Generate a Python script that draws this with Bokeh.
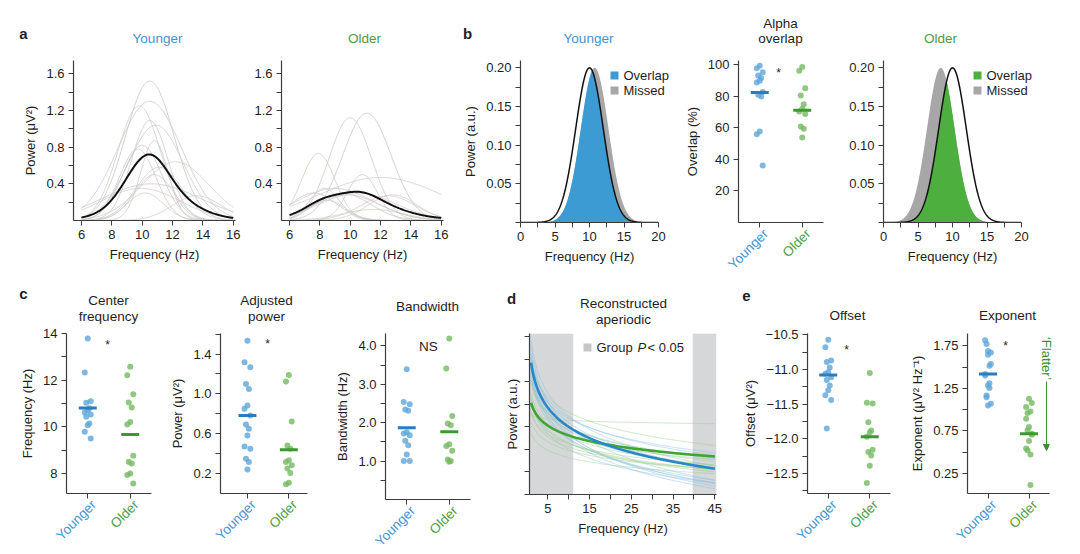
import numpy as np
from bokeh.plotting import figure
from bokeh.layouts import row, column
from bokeh.models import FixedTicker, BoxAnnotation, Arrow, NormalHead, Range1d
from bokeh.core.properties import value
from bokeh.embed import file_html
from bokeh.resources import INLINE

# ------------------------------------------------------------------ data
groups = ["Younger", "Older"]

# panel a: individual alpha peaks (centre Hz, power uV^2, width Hz)
a_young_cf = [10.5, 10.5, 9.8, 10.5, 10.9, 10.8, 10.0, 9.7, 12.2, 11.1, 10.8, 9.9, 10.6, 13.6, 10.2]
a_young_pw = [1.52, 1.30, 1.25, 1.09, 1.04, 0.87, 0.82, 0.78, 0.64, 0.58, 0.50, 0.35, 0.40, 0.27, 0.30]
a_young_bw = [1.6, 2.1, 1.4, 1.2, 1.8, 0.9, 1.3, 1.2, 2.2, 1.5, 1.3, 2.6, 3.2, 1.6, 1.2]
a_older_cf = [11.1, 10.0, 7.9, 10.8, 12.0, 8.3, 7.6, 9.0, 12.5, 8.5, 10.5, 12.8, 9.5, 9.8, 11.5]
a_older_pw = [1.17, 1.12, 0.73, 0.50, 0.47, 0.35, 0.30, 0.35, 0.27, 0.22, 0.30, 0.28, 0.30, 0.28, 0.12]
a_older_bw = [1.6, 1.4, 1.1, 1.0, 4.0, 1.0, 1.5, 2.5, 1.8, 1.2, 2.5, 1.6, 1.8, 2.2, 2.0]

# panel b: canonical alpha band vs group peak
b_reference_peak = 10.0
b_group_peak = [10.75, 8.3]
b_height = 0.2
b_width = 2.0

# alpha overlap (%)
overlap_young = [99.4, 97.8, 95.3, 93.2, 91.5, 89.8, 88.7, 82.6, 80.9, 79.8, 57.5, 55.8, 35.9]
overlap_older = [98.5, 96.2, 85.1, 80.5, 74.9, 72.0, 70.3, 68.6, 60.7, 59.2, 53.7]
overlap_means = [82.4, 71.1]

# panel c
cf_young = [13.79, 12.33, 11.10, 11.03, 10.80, 10.71, 10.61, 10.53, 10.43, 10.14, 10.07, 9.79, 9.50]
cf_older = [12.57, 12.21, 11.39, 11.04, 10.83, 10.21, 10.10, 8.76, 8.50, 8.43, 8.00, 7.93, 7.57]
cf_means = [10.81, 9.67]
pw_young = [1.533, 1.317, 1.267, 1.10, 1.05, 0.883, 0.85, 0.783, 0.693, 0.65, 0.583, 0.473, 0.45, 0.35, 0.317, 0.24]
pw_older = [1.19, 1.123, 0.723, 0.483, 0.45, 0.333, 0.317, 0.283, 0.25, 0.207, 0.107, 0.093]
pw_means = [0.783, 0.44]
bw_young = [3.39, 2.54, 2.48, 2.34, 2.31, 1.75, 1.72, 1.67, 1.53, 1.41, 1.17, 1.00, 1.00]
bw_older = [4.19, 3.41, 2.17, 1.98, 1.93, 1.44, 1.39, 1.27, 1.04, 1.00, 0.98]
bw_means = [1.87, 1.76]

# panel e (subject order shared by offset / exponent lists)
off_young = [-10.57, -10.68, -10.87, -10.89, -10.97, -11.04, -11.06, -11.11, -11.15, -11.23, -11.30, -11.37, -11.44, -11.85]
exp_young = [1.69, 1.816, 1.536, 1.77, 1.31, 1.645, 1.419, 1.67, 1.166, 1.516, 1.283, 1.40, 1.069, 1.146, 1.255, 1.049]
off_older = [-11.05, -11.48, -11.49, -11.76, -11.88, -11.91, -11.97, -12.16, -12.19, -12.24, -12.39, -12.64]
exp_older = [1.127, 1.03, 1.077, 0.96, 0.979, 0.796, 0.893, 0.718, 0.757, 0.115, 0.632, 0.543, 0.706, 0.523, 0.473]
off_means = [-11.08, -11.97]
exp_means = [1.42, 0.718]

# panel d significant frequency ranges (Hz)
sig_ranges = [(0.62, 11.1), (39.7, 45.4)]

# tick labels
a_xticks = [6, 8, 10, 12, 14, 16]
a_xlabels = ["6", "8", "10", "12", "14", "16"]
a_yticks = [0.2, 0.4, 0.6, 0.8, 1.0, 1.2, 1.4, 1.6]
a_ylabels = ["", "0.4", "", "0.8", "", "1.2", "", "1.6"]
b_xticks = [0.0, 2.5, 5.0, 7.5, 10.0, 12.5, 15.0, 17.5, 20.0]
b_xlabels = ["0", "", "5", "", "10", "", "15", "", "20"]
b_yticks = [0.0, 0.025, 0.05, 0.075, 0.1, 0.125, 0.15, 0.175, 0.2]
b_ylabels = ["", "", "0.05", "", "0.10", "", "0.15", "", "0.20"]
ov_yticks = [20, 40, 60, 80, 100]
ov_ylabels = ["20", "40", "60", "80", "100"]
cf_yticks = [8, 9, 10, 11, 12, 13, 14]
cf_ylabels = ["8", "", "10", "", "12", "", "14"]
pw_yticks = [0.2, 0.4, 0.6, 0.8, 1.0, 1.2, 1.4, 1.6]
pw_ylabels = ["0.2", "", "0.6", "", "1.0", "", "1.4", ""]
bw_yticks = [0.5, 1.0, 1.5, 2.0, 2.5, 3.0, 3.5, 4.0]
bw_ylabels = ["", "1.0", "", "2.0", "", "3.0", "", "4.0"]
d_xticks = [5, 10, 15, 20, 25, 30, 35, 40, 45]
d_xlabels = ["5", "", "15", "", "25", "", "35", "", "45"]
d_yticks = [-14.0, -13.5, -13.0, -12.5, -12.0, -11.5, -11.0, -10.5]
off_yticks = [-12.75, -12.5, -12.25, -12.0, -11.75, -11.5, -11.25, -11.0, -10.75, -10.5]
off_ylabels = ["", "\u221212.5", "", "\u221212.0", "", "\u221211.5", "", "\u221211.0", "", "\u221210.5"]
ex_yticks = [0.25, 0.5, 0.75, 1.0, 1.25, 1.5, 1.75]
ex_ylabels = ["0.25", "", "0.75", "", "1.25", "", "1.75"]

# ------------------------------------------------------------------ style
FONT = "Liberation Sans"
AX = "#3c3c3c"
TXT = "#1e1e1e"
Y_TXT = "#4593d2"
O_TXT = "#4c9d3e"
Y_PT = "#5ea6da"
O_PT = "#74ba62"
Y_BAR = "#2a7cc0"
O_BAR = "#3b9a2e"
Y_LINE = "#2a86c8"
O_LINE = "#3fa535"
Y_FILL = "#3d9bd4"
O_FILL = "#4caf3e"
GRAY_FILL = "#a7a7a7"
SIG = "#d5d7d8"
FLAT = "#3a8f2f"
THIN = ["#c6c6c6", "#d6c6c6", "#d0d0c0", "#c5cbd5", "#cccccc", "#d3c8c8"]
JIT = [0.0, -0.07, 0.07, -0.035, 0.035]
TOP_Y0, TOP_H = 0, 278
BOT_Y0, BOT_H = 278, 274


def make(x0, left, fw, right, y0, top, fh, xr, yr):
    total_h = TOP_H if y0 == TOP_Y0 else BOT_H
    p = figure(frame_width=fw, frame_height=fh,
               min_border_left=left, min_border_right=right,
               min_border_top=top, min_border_bottom=total_h - top - fh,
               x_range=Range1d(*xr), y_range=Range1d(*yr),
               toolbar_location=None, output_backend="svg", title=None)
    p.outline_line_color = None
    p.xgrid.visible = False
    p.ygrid.visible = False
    p.background_fill_color = "white"
    p.border_fill_color = "white"
    for ax in p.axis:
        ax.axis_line_color = AX
        ax.axis_line_width = 1.2
        ax.major_tick_line_color = AX
        ax.major_tick_line_width = 1
        ax.minor_tick_line_color = None
        ax.major_tick_out = 5
        ax.major_tick_in = 0
        ax.major_label_standoff = 4
        ax.major_label_text_font = FONT
        ax.major_label_text_font_size = "13px"
        ax.major_label_text_color = TXT
        ax.axis_label_text_font = FONT
        ax.axis_label_text_font_size = "13px"
        ax.axis_label_text_font_style = "normal"
        ax.axis_label_text_color = TXT
        ax.axis_label_standoff = 5
    geo = (x0 + left, y0 + top + fh, fw, fh, xr, yr)   # page coords of frame bottom-left
    return p, geo


def to_data(geo, px, py):
    fl, fb, fw, fh, (x0, x1), (y0, y1) = geo
    return x0 + (px - fl) / fw * (x1 - x0), y0 + (fb - py) / fh * (y1 - y0)


def ticks(axis, vals, labels):
    axis.ticker = FixedTicker(ticks=list(vals), minor_ticks=[])
    axis.major_label_overrides = {v: l for v, l in zip(vals, labels)}


def put(p, geo, px, py, text, size="13px", color=TXT, align="center",
        baseline="middle", angle=0, style="normal"):
    x, y = to_data(geo, px, py)
    p.text(x=[x], y=[y], text=[text], text_font=value(FONT), text_font_size=value(size),
           text_color=color, text_align=align, text_baseline=baseline, angle=angle,
           angle_units="deg", text_font_style=style, level="overlay")


def strip(p, geo, young, older, means):
    for i, (vals, pc, bc) in enumerate([(young, Y_PT, Y_BAR), (older, O_PT, O_BAR)]):
        xs = [i + 0.5 + JIT[k % len(JIT)] for k in range(len(vals))]
        p.scatter(xs, vals, size=6, fill_color=pc, fill_alpha=0.8, line_color=None)
        p.scatter([i + 0.5], [means[i]], marker="dash", size=18, line_color=bc, line_width=3)
    ticks(p.xaxis[0], [0.5, 1.5], ["", ""])
    fl, fb, fw, fh, (x0, x1), _ = geo
    for i, (g, c) in enumerate(zip(groups, [Y_TXT, O_TXT])):
        cx = fl + (i + 0.5 - x0) / (x1 - x0) * fw
        put(p, geo, cx + 6, fb + 9, g, size="13.5px", color=c, align="right", angle=45)


def legend_sq(p, geo, px, py, color):
    x, y = to_data(geo, px, py)
    p.scatter([x], [y], marker="square", size=8, fill_color=color, line_color=None, level="overlay")


def gauss(f, c, h, s):
    return h * np.exp(-(f - c) ** 2 / (2.0 * s ** 2))


# ------------------------------------------------------------------ top row
fa = np.linspace(6, 16, 201)
a_figs = []
specs = [(0, 73, 8, a_young_cf, a_young_pw, a_young_bw, "Younger", Y_TXT, 157),
         (243, 38, 12, a_older_cf, a_older_pw, a_older_bw, "Older", O_TXT, 364)]
for k, (x0, left, right, cfs, pws, bws, name, col, tx) in enumerate(specs):
    p, g = make(x0, left, 162, right, TOP_Y0, 60, 160, (5.47, 16.15), (0.0, 1.745))
    curves = [gauss(fa, c, h, s) for c, h, s in zip(cfs, pws, bws)]
    for j, cv in enumerate(curves):
        p.line(fa, cv, line_color=THIN[j % len(THIN)], line_width=1, line_alpha=0.8)
    p.line(fa, np.mean(curves, axis=0), line_color="#111111", line_width=2)
    ticks(p.xaxis[0], a_xticks, a_xlabels)
    ticks(p.yaxis[0], a_yticks, a_ylabels)
    p.xaxis.axis_label = "Frequency (Hz)"
    if k == 0:
        p.yaxis.axis_label = "Power (\u03bcV\u00b2)"
        put(p, g, 23, 33, "a", size="15px", style="bold")
    put(p, g, tx, 38, name, size="13.5px", color=col)
    a_figs.append(p)

fb = np.linspace(0, 20, 401)
ref = gauss(fb, b_reference_peak, b_height, b_width)


def band_panel(x0, left, right, idx, fill, title_x, sq_x):
    p, g = make(x0, left, 138, right, TOP_Y0, 60, 162, (0.0, 20.0), (0.0, 0.2095))
    grp = gauss(fb, b_group_peak[idx], b_height, b_width)
    p.varea(x=fb, y1=0, y2=grp, fill_color=GRAY_FILL)
    p.varea(x=fb, y1=0, y2=np.minimum(ref, grp), fill_color=fill)
    p.line(fb, ref, line_color="#111111", line_width=1.5)
    ticks(p.xaxis[0], b_xticks, b_xlabels)
    ticks(p.yaxis[0], b_yticks, b_ylabels)
    p.xaxis.axis_label = "Frequency (Hz)"
    legend_sq(p, g, sq_x, 75, fill)
    legend_sq(p, g, sq_x, 90, GRAY_FILL)
    put(p, g, sq_x + 9, 75, "Overlap", align="left")
    put(p, g, sq_x + 9, 90, "Missed", align="left")
    put(p, g, title_x, 38, groups[idx], size="13.5px", color=[Y_TXT, O_TXT][idx])
    return p, g


b1, gb1 = band_panel(455, 65, 20, 0, Y_FILL, 588, 614)
b1.yaxis.axis_label = "Power (a.u.)"
put(b1, gb1, 467, 33, "b", size="15px", style="bold")

pov, gov = make(678, 60, 85, 17, TOP_Y0, 60, 162, (0.0, 2.0), (-0.4, 102.7))
strip(pov, gov, overlap_young, overlap_older, overlap_means)
ticks(pov.yaxis[0], ov_yticks, ov_ylabels)
pov.yaxis.axis_label = "Overlap (%)"
put(pov, gov, 780, 23, "Alpha", size="13.5px")
put(pov, gov, 780, 38, "overlap", size="13.5px")
put(pov, gov, 778, 72, "*", size="12px")

b2, gb2 = band_panel(840, 43, 51, 1, O_FILL, 940, 977)

# ------------------------------------------------------------------ bottom row
pcf, gcf = make(0, 66, 85, 14, BOT_Y0, 55, 160, (0.0, 2.0), (7.14, 14.0))
strip(pcf, gcf, cf_young, cf_older, cf_means)
ticks(pcf.yaxis[0], cf_yticks, cf_ylabels)
pcf.yaxis.axis_label = "Frequency (Hz)"
put(pcf, gcf, 23, 293, "c", size="15px", style="bold")
put(pcf, gcf, 108, 300, "Center", size="13.5px")
put(pcf, gcf, 108, 316, "frequency", size="13.5px")
put(pcf, gcf, 107, 344, "*", size="12px")

ppw, gpw = make(165, 55, 87, 23, BOT_Y0, 55, 160, (-0.15, 1.95), (0.0, 1.606))
strip(ppw, gpw, pw_young, pw_older, pw_means)
ticks(ppw.yaxis[0], pw_yticks, pw_ylabels)
ppw.yaxis.axis_label = "Power (\u03bcV\u00b2)"
put(ppw, gpw, 266, 300, "Adjusted", size="13.5px")
put(ppw, gpw, 266, 316, "power", size="13.5px")
put(ppw, gpw, 267, 343, "*", size="12px")

pbw, gbw = make(330, 55, 85, 20, BOT_Y0, 49, 166, (0.0, 2.0), (0.0, 4.32))
strip(pbw, gbw, bw_young, bw_older, bw_means)
ticks(pbw.yaxis[0], bw_yticks, bw_ylabels)
pbw.yaxis.axis_label = "Bandwidth (Hz)"
put(pbw, gbw, 427, 300, "Bandwidth", size="13.5px")
put(pbw, gbw, 428, 340, "NS", size="13.5px")

pd, gd = make(490, 39, 187, 21, BOT_Y0, 52, 161, (0.62, 45.4), (-14.0, -10.43))
for lo, hi in sig_ranges:
    pd.add_layout(BoxAnnotation(left=lo, right=hi, fill_color=SIG, fill_alpha=1.0,
                                line_color=None, level="underlay"))
fd = np.linspace(1, 45, 221)
for offs, exps, col in [(off_young, exp_young, "#8cc2e8"), (off_older, exp_older, "#9ed08e")]:
    for o, e in zip(offs, exps):
        pd.line(fd, o - e * np.log10(fd), line_color=col, line_width=1, line_alpha=0.5)
pd.line(fd, off_means[1] - exp_means[1] * np.log10(fd), line_color=O_LINE, line_width=2.6)
pd.line(fd, off_means[0] - exp_means[0] * np.log10(fd), line_color=Y_LINE, line_width=2.6)
ticks(pd.xaxis[0], d_xticks, d_xlabels)
ticks(pd.yaxis[0], d_yticks, [""] * len(d_yticks))
pd.xaxis.axis_label = "Frequency (Hz)"
pd.yaxis.axis_label = "Power (a.u.)"
put(pd, gd, 511, 295, "d", size="15px", style="bold")
put(pd, gd, 623, 300, "Reconstructed", size="13.5px")
put(pd, gd, 623, 316, "aperiodic", size="13.5px")
legend_sq(pd, gd, 587, 344, "#c4c6c7")
put(pd, gd, 596, 344, "Group", align="left")
put(pd, gd, 637, 344, "P", align="left", style="italic")
put(pd, gd, 647, 344, "< 0.05", align="left")

pof, gof = make(737, 70, 83, 10, BOT_Y0, 55, 160, (0.0, 2.0), (-12.79, -10.48))
strip(pof, gof, off_young, off_older, off_means)
ticks(pof.yaxis[0], off_yticks, off_ylabels)
pof.yaxis.axis_label = "Offset (\u03bcV\u00b2)"
put(pof, gof, 746, 295, "e", size="15px", style="bold")
put(pof, gof, 847, 315, "Offset", size="13.5px")
put(pof, gof, 846, 349, "*", size="12px")

pex, gex = make(900, 67, 82, 23, BOT_Y0, 55, 160, (0.0, 2.0), (0.016, 1.894))
strip(pex, gex, exp_young, exp_older, exp_means)
ticks(pex.yaxis[0], ex_yticks, ex_ylabels)
pex.yaxis.axis_label = "Exponent (\u03bcV\u00b2 Hz\u207b\u00b9)"
put(pex, gex, 1007, 315, "Exponent", size="13.5px")
put(pex, gex, 1005, 345, "*", size="12px")
put(pex, gex, 1046, 358, "\u2018Flatter\u2019", color=FLAT, angle=-90)
pex.add_layout(Arrow(end=NormalHead(size=6, fill_color=FLAT, line_color=FLAT),
                     x_start=1046 - gex[0], y_start=gex[1] - 381,
                     x_end=1046 - gex[0], y_end=gex[1] - 450,
                     start_units="screen", end_units="screen",
                     line_color=FLAT, line_width=1))

layout = column(row(a_figs[0], a_figs[1], b1, pov, b2),
                row(pcf, ppw, pbw, pd, pof, pex))

open("out.html", "w").write(file_html(layout, INLINE))
